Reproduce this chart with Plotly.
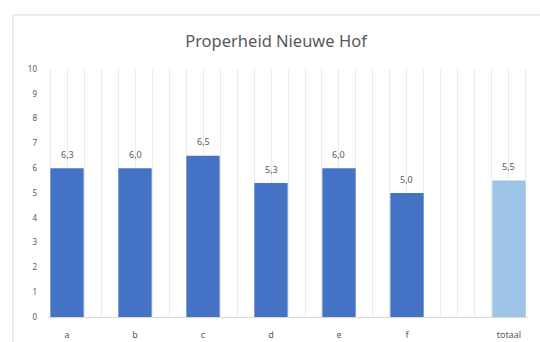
import plotly.graph_objects as go

categories = ["a", "b", "c", "d", "e", "f", "totaal"]
bar_heights = [6.0, 6.0, 6.5, 5.4, 6.0, 5.0, 5.5]
value_labels = ["6,3", "6,0", "6,5", "5,3", "6,0", "5,0", "5,5"]
y_ticks = list(range(0, 11))

# totaal sits half a slot further right than the other categories
slots = [0, 1, 2, 3, 4, 5, 6.5]
colors = ["#4472C4"] * 6 + ["#9DC3E6"]
font = "Noto Sans"
grey = "#595959"

fig = go.Figure()
fig.add_trace(
    go.Bar(
        x=slots,
        y=bar_heights,
        width=0.49,
        marker={"color": colors, "line": {"width": 0}},
        hoverinfo="skip",
    )
)

for slot, height, label in zip(slots, bar_heights, value_labels):
    fig.add_annotation(
        x=slot,
        y=height,
        text=label,
        showarrow=False,
        yshift=14,
        font={"family": font, "size": 9, "color": grey},
    )

# light chart-area frame
fig.add_shape(
    type="rect",
    xref="paper",
    yref="paper",
    x0=-0.073,
    x1=1.2,
    y0=-0.3,
    y1=1.218,
    line={"color": "#d9d9d9", "width": 1},
    layer="below",
)

fig.update_layout(
    width=540,
    height=342,
    paper_bgcolor="white",
    plot_bgcolor="white",
    showlegend=False,
    margin={"l": 48, "r": 12, "t": 69, "b": 25, "autoexpand": False},
    title={
        "text": "Properheid Nieuwe Hof",
        "x": 0.475,
        "xref": "paper",
        "y": 0.88,
        "yanchor": "middle",
        "font": {"family": font, "size": 16.5, "color": grey},
    },
    xaxis={
        "range": [-0.28, 6.78],
        "tickvals": slots,
        "ticktext": categories,
        "showgrid": True,
        "gridcolor": "#ebebeb",
        "minor": {"dtick": 0.25, "tick0": 0, "showgrid": True, "gridcolor": "#ebebeb"},
        "showline": True,
        "linecolor": "#d9d9d9",
        "ticks": "",
        "ticklabelstandoff": 9,
        "tickfont": {"family": font, "size": 9, "color": grey},
        "zeroline": False,
        "automargin": False,
        "fixedrange": True,
    },
    yaxis={
        "range": [0, 10],
        "tickvals": y_ticks,
        "showgrid": False,
        "zeroline": False,
        "ticks": "",
        "ticklabelstandoff": 10,
        "tickfont": {"family": font, "size": 8, "color": grey},
        "automargin": False,
        "fixedrange": True,
    },
)

# drop the browser's default body margin so the 540x342 figure fills the window
fig.write_html(
    "out.html",
    config={"displayModeBar": False},
    post_script="document.body.style.margin = '0';",
)
